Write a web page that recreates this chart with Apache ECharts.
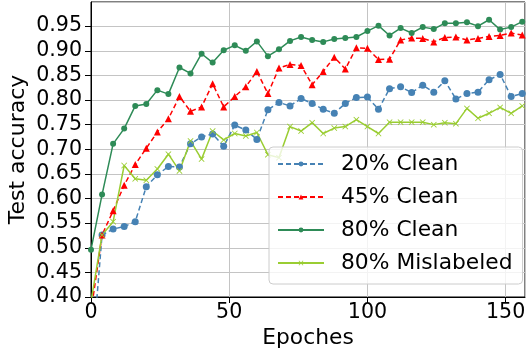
<!DOCTYPE html>
<html>
<head>
<meta charset="utf-8">
<script src="https://cdn.jsdelivr.net/npm/echarts@6/dist/echarts.min.js"></script>
<style>
  html, body { margin: 0; padding: 0; background: #fff; }
  #chart { width: 526px; height: 357px; }
</style>
</head>
<body>
<div id="chart"></div>
<script>
// epochs where accuracy was logged
const epochs = [0, 4, 8, 12, 16, 20, 24, 28, 32, 36, 40, 44, 48, 52, 56, 60, 64, 68, 72, 76,
  80, 84, 88, 92, 96, 100, 104, 108, 112, 116, 120, 124, 128, 132, 136, 140, 144, 148, 152, 156];

const clean20 = [0.25, 0.526, 0.538, 0.543, 0.553, 0.624, 0.648, 0.665, 0.664, 0.711,
  0.725, 0.731, 0.706, 0.749, 0.739, 0.720, 0.780, 0.795, 0.788, 0.803,
  0.793, 0.781, 0.773, 0.793, 0.805, 0.806, 0.781, 0.823, 0.827, 0.815,
  0.830, 0.816, 0.839, 0.802, 0.813, 0.816, 0.841, 0.852, 0.807, 0.813];

const clean45 = [0.37, 0.526, 0.575, 0.627, 0.669, 0.702, 0.735, 0.762, 0.807, 0.777,
  0.786, 0.833, 0.786, 0.807, 0.827, 0.858, 0.813, 0.865, 0.872, 0.870,
  0.831, 0.858, 0.887, 0.863, 0.906, 0.905, 0.882, 0.883, 0.922, 0.926,
  0.925, 0.918, 0.927, 0.928, 0.922, 0.925, 0.929, 0.931, 0.936, 0.932];

const clean80 = [0.496, 0.608, 0.711, 0.742, 0.788, 0.792, 0.820, 0.812, 0.866, 0.854,
  0.894, 0.876, 0.901, 0.911, 0.900, 0.919, 0.889, 0.903, 0.920, 0.928,
  0.922, 0.918, 0.924, 0.926, 0.928, 0.940, 0.951, 0.931, 0.946, 0.936,
  0.948, 0.944, 0.956, 0.956, 0.958, 0.950, 0.963, 0.943, 0.948, 0.959];

const mislabeled80 = [0.39, 0.526, 0.553, 0.667, 0.640, 0.637, 0.660, 0.690, 0.656, 0.717,
  0.680, 0.737, 0.719, 0.732, 0.727, 0.734, 0.689, 0.683, 0.746, 0.737,
  0.754, 0.732, 0.743, 0.746, 0.760, 0.746, 0.732, 0.755, 0.755, 0.755,
  0.755, 0.750, 0.754, 0.752, 0.783, 0.763, 0.773, 0.785, 0.773, 0.788];

const FONT = 'DejaVu Sans';
const CROSS = 'path://M0,1L1,0L5,4L9,0L10,1L6,5L10,9L9,10L5,6L1,10L0,9L4,5Z';

const pairs = (ys) => epochs.map((e, i) => [e, ys[i]]);

const makeSeries = (name, ys, color, dashed, symbol, size) => ({
  name,
  type: 'line',
  data: pairs(ys),
  symbol,
  symbolSize: size,
  showSymbol: true,
  clip: true,
  animation: false,
  lineStyle: { color, width: 1.5, type: dashed ? [5, 3] : 'solid' },
  itemStyle: { color },
  emphasis: { disabled: true }
});

const chart = echarts.init(document.getElementById('chart'), null, { renderer: 'canvas' });

chart.setOption({
  animation: false,
  grid: {
    left: 91, right: 1, top: 2, bottom: 60,
    outerBoundsMode: 'none',
    containLabel: false,
    show: true, borderColor: '#000', borderWidth: 1, backgroundColor: 'transparent'
  },
  legend: {
    orient: 'vertical',
    left: 269, top: 147,
    padding: [6, 10, 10, 8],
    itemGap: 11,
    itemWidth: 46,
    itemHeight: 6,
    backgroundColor: 'rgba(255,255,255,0.8)',
    borderColor: '#cccccc',
    borderWidth: 1,
    borderRadius: 4,
    textStyle: { fontFamily: FONT, fontSize: 21.8, color: '#000', padding: [0, 0, 0, 12] },
    data: ['20% Clean', '45% Clean', '80% Clean', '80% Mislabeled']
  },
  xAxis: {
    type: 'value',
    min: 0, max: 157, interval: 50,
    name: 'Epoches',
    nameLocation: 'middle',
    nameGap: 30,
    nameMoveOverlap: false,
    nameTextStyle: { fontFamily: FONT, fontSize: 21.8, color: '#000' },
    axisLine: { show: true, lineStyle: { color: '#000', width: 1 } },
    axisTick: { show: true, length: 6, lineStyle: { color: '#000' } },
    axisLabel: { fontFamily: FONT, fontSize: 20.6, color: '#000', margin: 5, showMaxLabel: false },
    splitLine: { show: true, lineStyle: { color: '#c4c4c4', width: 1 } }
  },
  yAxis: {
    type: 'value',
    min: 0.4, max: 0.999, interval: 0.05,
    name: 'Test accuracy',
    nameLocation: 'middle',
    nameGap: 62,
    nameMoveOverlap: false,
    nameTextStyle: { fontFamily: FONT, fontSize: 22, color: '#000' },
    axisLine: { show: true, lineStyle: { color: '#000', width: 1 } },
    axisTick: { show: true, length: 6, lineStyle: { color: '#000' } },
    axisLabel: {
      fontFamily: FONT, fontSize: 20.6, color: '#000', margin: 9, showMaxLabel: false,
      formatter: (v) => v.toFixed(2)
    },
    splitLine: { show: true, lineStyle: { color: '#c4c4c4', width: 1 } }
  },
  series: [
    makeSeries('20% Clean', clean20, '#4682b4', true, 'circle', 7),
    makeSeries('45% Clean', clean45, '#ff0000', true, 'triangle', 7),
    makeSeries('80% Clean', clean80, '#2e8b57', false, 'circle', 6),
    makeSeries('80% Mislabeled', mislabeled80, '#9acd32', false, CROSS, 6)
  ]
});
</script>
</body>
</html>
